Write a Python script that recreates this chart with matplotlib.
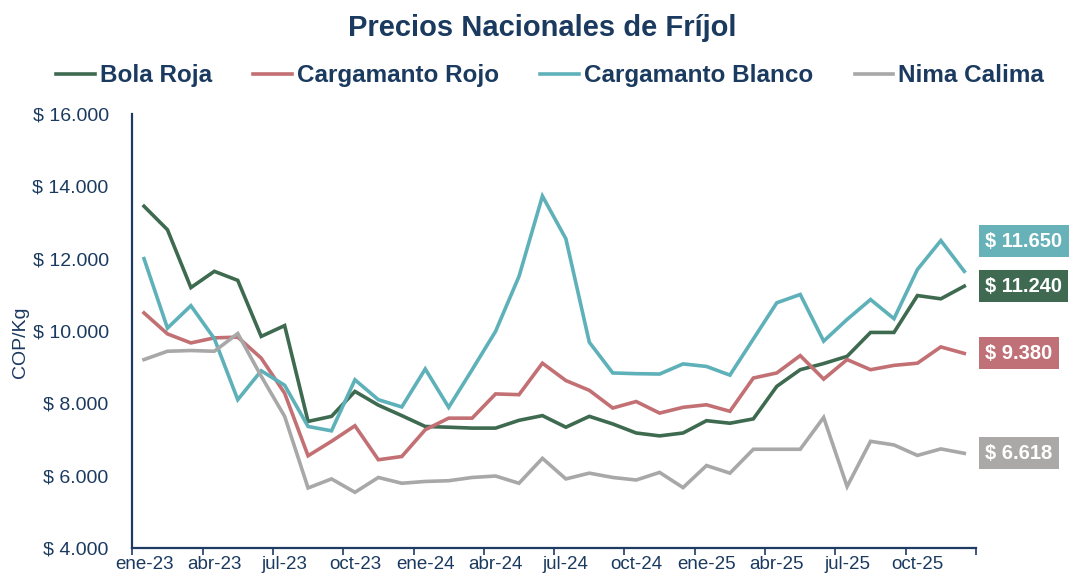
import matplotlib
matplotlib.use("Agg")
import matplotlib.pyplot as plt
from matplotlib.ticker import FuncFormatter, FixedLocator
import matplotlib.transforms as mtransforms

plt.rcParams['font.family'] = ['Liberation Sans', 'DejaVu Sans']

# ---- data ----
months = ["ene", "feb", "mar", "abr", "may", "jun", "jul", "ago", "sep", "oct", "nov", "dic"]
dates = [f"{m}-{y}" for y in ("23", "24", "25") for m in months]

series_names = ["Bola Roja", "Cargamanto Rojo", "Cargamanto Blanco", "Nima Calima"]

bola_roja = [13450, 12800, 11200, 11650, 11400, 9850, 10150, 7500, 7640, 8330, 7950, 7660,
             7360, 7340, 7315, 7315, 7530, 7660, 7340, 7640, 7430, 7180, 7100, 7180,
             7520, 7450, 7570, 8470, 8930, 9100, 9300, 9960, 9960, 10980, 10890, 11240]
cargamanto_rojo = [10500, 9920, 9670, 9810, 9830, 9250, 8280, 6550, 6950, 7380, 6440, 6530,
                   7270, 7590, 7590, 8260, 8240, 9110, 8630, 8360, 7870, 8050, 7730, 7890,
                   7960, 7780, 8700, 8840, 9320, 8670, 9210, 8930, 9050, 9110, 9560, 9380]
cargamanto_blanco = [12000, 10080, 10700, 9790, 8100, 8900, 8500, 7360, 7240, 8650, 8100, 7900,
                     8950, 7890, 8930, 9990, 11510, 13730, 12550, 9690, 8840, 8820, 8810, 9090,
                     9020, 8780, 9780, 10780, 11010, 9720, 10320, 10870, 10340, 11700, 12500, 11650]
nima_calima = [9210, 9440, 9460, 9440, 9930, 8750, 7640, 5660, 5910, 5540, 5950, 5790,
               5840, 5860, 5950, 5990, 5790, 6480, 5910, 6070, 5950, 5880, 6090, 5670,
               6280, 6070, 6730, 6730, 6730, 7610, 5700, 6950, 6850, 6560, 6740, 6618]

tick_labels = ["ene-23", "abr-23", "jul-23", "oct-23", "ene-24", "abr-24",
               "jul-24", "oct-24", "ene-25", "abr-25", "jul-25", "oct-25"]

# ---- styles ----
line_colors = ["#3e6a50", "#c27073", "#5eb1b8", "#a8a8a8"]
box_colors = ["#3f6951", "#c07177", "#66b2b8", "#aba8a8"]
label_offsets = [0, 0, 830, 0]  # vertical offsets (data units) for end labels
navy = "#1b3a5f"
spine_color = "#1f3b63"

all_series = [bola_roja, cargamanto_rojo, cargamanto_blanco, nima_calima]

fig = plt.figure(figsize=(10.70, 5.77), dpi=100)
ax = fig.add_axes([132.3 / 1070, 1 - 548 / 577, (976 - 132.3) / 1070, (548 - 114) / 577])

x = [i + 0.5 for i in range(len(dates))]
for name, vals, c in zip(series_names, all_series, line_colors):
    ax.plot(x, vals, color=c, lw=2.6, label=name, solid_joinstyle='miter')

ax.set_xlim(0, len(dates))
ax.set_ylim(4000, 16000)
ax.set_yticks(range(4000, 16001, 2000))
ax.yaxis.set_major_formatter(FuncFormatter(lambda v, p: "$ " + f"{v:,.0f}".replace(",", ".")))
ax.tick_params(axis='y', length=0, labelsize=14, labelcolor=navy, pad=17)

ax.xaxis.set_major_locator(FixedLocator(list(range(0, len(dates) + 1, 3))))
ax.xaxis.set_minor_locator(FixedLocator([i + 0.5 for i in range(0, len(dates), 3)]))
ax.set_xticklabels([])
ax.set_xticklabels(tick_labels, minor=True)
ax.tick_params(axis='x', which='major', length=5, width=1.2, color=spine_color, direction='out')
ax.tick_params(axis='x', which='minor', length=0, labelsize=13.5, labelcolor=navy, pad=6)

for s in ("top", "right"):
    ax.spines[s].set_visible(False)
for s in ("left", "bottom"):
    ax.spines[s].set_color(spine_color)
    ax.spines[s].set_linewidth(1.6)

ax.set_ylabel("COP/Kg", fontsize=14, color=navy)
ax.yaxis.set_label_coords(-0.1225, 0.475)

fig.text(542.5 / 1070, 1 - 28 / 577, "Precios Nacionales de Fríjol", ha='center', va='center',
         fontsize=21, fontweight='bold', color=navy)

fig.legend(loc='center', bbox_to_anchor=(550 / 1070, 1 - 76 / 577), ncol=4, frameon=False,
           prop={'weight': 'bold', 'size': 17.5}, labelcolor=navy,
           handlelength=1.6, handletextpad=0.2, columnspacing=1.7)

# ---- end labels ----
trans = mtransforms.blended_transform_factory(fig.transFigure, ax.transData)
for vals, bc, off in zip(all_series, box_colors, label_offsets):
    last = vals[-1]
    txt = "$ " + f"{last:,.0f}".replace(",", ".")
    fig.text(985 / 1070, last + off, txt, transform=trans, ha='left', va='center',
             fontsize=14.5, fontweight='bold', color='white',
             bbox=dict(boxstyle='square,pad=0.32', facecolor=bc, edgecolor='none'))

fig.savefig("out.png", dpi=100)
